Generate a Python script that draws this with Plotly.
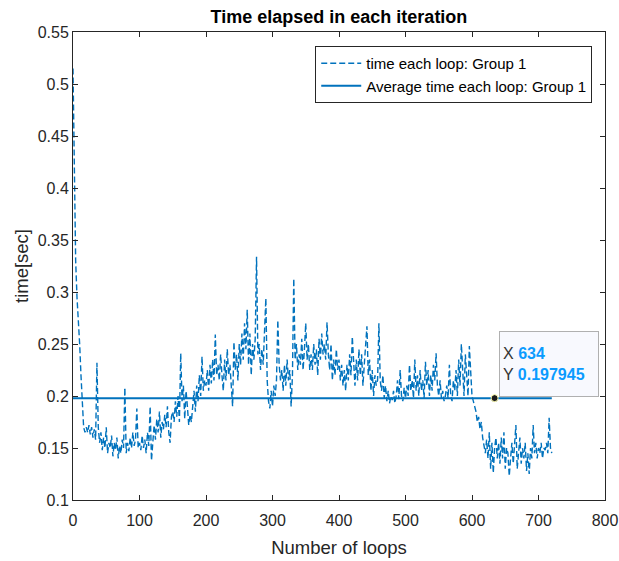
import plotly.graph_objects as go

# ---------------- data ----------------
loop_step = 2
time_each_loop = [
    0.515, 0.40, 0.33, 0.295, 0.275, 0.25, 0.22, 0.19, 0.17, 0.165,
    0.17, 0.165, 0.172, 0.163, 0.17, 0.16, 0.168, 0.158, 0.232, 0.17,
    0.155, 0.165, 0.148, 0.16, 0.15, 0.17, 0.145, 0.155, 0.15, 0.162,
    0.142, 0.155, 0.148, 0.16, 0.14, 0.152, 0.145, 0.158, 0.15, 0.208,
    0.145, 0.155, 0.147, 0.16, 0.15, 0.165, 0.152, 0.158, 0.188, 0.15,
    0.155, 0.148, 0.162, 0.15, 0.158, 0.145, 0.165, 0.152, 0.19, 0.138,
    0.16, 0.172, 0.158, 0.178, 0.165, 0.185, 0.16, 0.175, 0.168, 0.182,
    0.17, 0.19, 0.165, 0.155, 0.18, 0.185, 0.175, 0.195, 0.18, 0.2,
    0.175, 0.241, 0.195, 0.21, 0.178, 0.205, 0.19, 0.172, 0.182, 0.175,
    0.19, 0.205, 0.185, 0.21, 0.195, 0.22, 0.2, 0.238, 0.205, 0.215,
    0.21, 0.225, 0.205, 0.23, 0.212, 0.235, 0.215, 0.259, 0.22, 0.23,
    0.215, 0.24, 0.22, 0.205, 0.235, 0.215, 0.245, 0.22, 0.23, 0.21,
    0.19, 0.252, 0.225, 0.24, 0.215, 0.25, 0.23, 0.26, 0.235, 0.27,
    0.245, 0.283, 0.23, 0.26, 0.22, 0.25, 0.235, 0.255, 0.334, 0.24,
    0.25, 0.225, 0.245, 0.23, 0.26, 0.294, 0.215, 0.195, 0.188, 0.205,
    0.19, 0.21, 0.2, 0.215, 0.273, 0.23, 0.215, 0.225, 0.205, 0.23,
    0.21, 0.235, 0.215, 0.225, 0.19, 0.22, 0.313, 0.235, 0.25, 0.225,
    0.24, 0.23, 0.255, 0.225, 0.245, 0.27, 0.235, 0.25, 0.225, 0.24,
    0.225, 0.25, 0.23, 0.245, 0.22, 0.255, 0.235, 0.26, 0.24, 0.25,
    0.235, 0.271, 0.24, 0.225, 0.25, 0.215, 0.235, 0.22, 0.245, 0.225,
    0.235, 0.215, 0.23, 0.21, 0.225, 0.205, 0.23, 0.215, 0.24, 0.22,
    0.257, 0.225, 0.21, 0.235, 0.215, 0.245, 0.22, 0.24, 0.21, 0.23,
    0.25, 0.267, 0.22, 0.235, 0.205, 0.225, 0.2, 0.22, 0.21, 0.215,
    0.27, 0.215, 0.205, 0.22, 0.198, 0.21, 0.195, 0.205, 0.193, 0.2,
    0.196, 0.205, 0.193, 0.2, 0.215, 0.197, 0.225, 0.2, 0.195, 0.208,
    0.198, 0.21, 0.2, 0.23, 0.205, 0.215, 0.198, 0.235, 0.205, 0.22,
    0.2, 0.225, 0.205, 0.215, 0.198, 0.233, 0.21, 0.225, 0.2, 0.22,
    0.205, 0.23, 0.215, 0.241, 0.21, 0.2, 0.215, 0.198, 0.205, 0.195,
    0.2, 0.21, 0.198, 0.23, 0.2, 0.195, 0.215, 0.205, 0.225, 0.2,
    0.235, 0.21, 0.25, 0.22, 0.2, 0.24, 0.215, 0.2, 0.248, 0.22,
    0.2, 0.195, 0.19, 0.185, 0.175, 0.18, 0.168, 0.175, 0.16, 0.152,
    0.145, 0.158, 0.14, 0.165, 0.13, 0.155, 0.126, 0.15, 0.16, 0.14,
    0.155, 0.135, 0.16, 0.14, 0.165, 0.13, 0.15, 0.145, 0.123, 0.14,
    0.155, 0.135, 0.15, 0.172, 0.13, 0.145, 0.16, 0.135, 0.15, 0.14,
    0.155, 0.128, 0.145, 0.125, 0.15, 0.14, 0.172, 0.145, 0.155, 0.14,
    0.15, 0.145, 0.155, 0.14, 0.15, 0.148, 0.155, 0.145, 0.179, 0.15,
    0.145,
]
loops = [i * loop_step for i in range(len(time_each_loop))]

average_time = 0.197945
average_x = [loops[0], loops[-1]]
average_y = [average_time, average_time]

tip_x = [634]
tip_y = [average_time]

x_ticks = [0, 100, 200, 300, 400, 500, 600, 700, 800]
y_ticks = [0.1, 0.15, 0.2, 0.25, 0.3, 0.35, 0.4, 0.45, 0.5, 0.55]
y_tick_text = ["0.1", "0.15", "0.2", "0.25", "0.3", "0.35", "0.4", "0.45", "0.5", "0.55"]

# ---------------- figure ----------------
blue = "#0072BD"
font_family = "Liberation Sans, Arial, Helvetica, sans-serif"

fig = go.Figure()
fig.add_trace(go.Scatter(
    x=loops, y=time_each_loop, mode="lines",
    name="time each loop: Group 1",
    line=dict(color=blue, width=1.4, dash="6px,3px"),
))
fig.add_trace(go.Scatter(
    x=average_x, y=average_y, mode="lines",
    name="Average time each loop: Group 1",
    line=dict(color=blue, width=2),
))
fig.add_trace(go.Scatter(
    x=tip_x, y=tip_y, mode="markers", showlegend=False,
    marker=dict(color="#1a1a1a", size=7, line=dict(color="#FFFFB0", width=1)),
))

fig.add_annotation(
    x=tip_x[0], y=tip_y[0], xref="x", yref="y",
    xshift=4, yshift=1, xanchor="left", yanchor="bottom",
    text=("X <b><span style='color:#0A9BFF'>634</span></b><br>"
          "Y <b><span style='color:#0A9BFF'>0.197945</span></b>"),
    showarrow=False, align="left", valign="middle",
    width=92, height=58,
    font=dict(family=font_family, size=16, color="#333333"),
    bgcolor="#F8F9FE", bordercolor="#B0B0B0", borderwidth=1, borderpad=3,
)

axis_common = dict(
    showline=True, linecolor="#262626", linewidth=1, mirror="ticks",
    ticks="inside", ticklen=5, tickcolor="#262626",
    showgrid=False, zeroline=False, automargin=False,
    tickfont=dict(family=font_family, size=16, color="#262626"),
)

fig.update_layout(
    width=619, height=561,
    margin=dict(l=73, r=14, t=32, b=61),
    paper_bgcolor="white", plot_bgcolor="white",
    title=dict(text="<b>Time elapsed in each iteration</b>", x=0.5, xref="paper",
               xanchor="center", y=0.970, yanchor="middle",
               font=dict(family=font_family, size=18, color="black")),
    xaxis=dict(range=[0, 800], tickvals=x_ticks, ticklabelstandoff=6,
               title=dict(text="Number of loops", standoff=12,
                          font=dict(family=font_family, size=18.5, color="#262626")),
               **axis_common),
    yaxis=dict(range=[0.1, 0.55], tickvals=y_ticks, ticktext=y_tick_text,
               title=dict(text="time[sec]", standoff=4,
                          font=dict(family=font_family, size=18.5, color="#262626")),
               **axis_common),
    legend=dict(x=0.976, y=0.970, xanchor="right", yanchor="top",
                bgcolor="white", bordercolor="#262626", borderwidth=1,
                font=dict(family=font_family, size=15, color="black"),
                tracegroupgap=0, itemwidth=40),
    showlegend=True,
)

fig.write_html("out.html")
